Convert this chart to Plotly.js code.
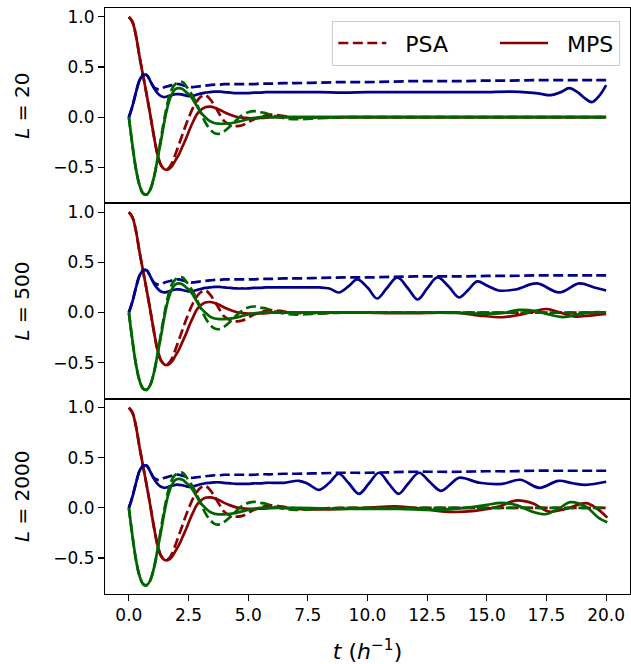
<!DOCTYPE html>
<html>
<head>
<meta charset="utf-8">
<script src="https://cdn.plot.ly/plotly-3.0.1.min.js"></script>
<style>html,body{margin:0;padding:0;background:#fff;}#chart{width:631px;height:664px;}</style>
</head>
<body>
<div id="chart"></div>
<script>
// ---------- shared early-time data (identical in all panels) ----------
const tEarly = [0, 0.15, 0.3, 0.45, 0.6, 0.75, 0.9, 1.05, 1.2, 1.35, 1.5, 1.65, 1.8, 1.95, 2.1, 2.25, 2.4, 2.55, 2.7, 2.85, 3.0, 3.2, 3.4, 3.6, 3.8, 4.0, 4.25, 4.5, 4.75, 5.0, 5.25, 5.5, 5.75, 6.0, 6.5];

const mpsRedEarly = [1.0, 0.95, 0.81, 0.60, 0.41, 0.22, 0.02, -0.19, -0.37, -0.48, -0.52, -0.52, -0.49, -0.43, -0.37, -0.29, -0.21, -0.12, -0.04, 0.03, 0.07, 0.10, 0.105, 0.095, 0.075, 0.05, 0.025, 0.005, -0.005, -0.01, -0.01, -0.008, -0.005, 0.0, 0.0];
const psaRedEarly = [1.0, 0.95, 0.81, 0.60, 0.41, 0.22, 0.02, -0.19, -0.37, -0.48, -0.51, -0.51, -0.46, -0.37, -0.27, -0.17, -0.07, 0.02, 0.10, 0.16, 0.20, 0.22, 0.18, 0.11, 0.03, -0.04, -0.075, -0.088, -0.08, -0.05, -0.02, 0.0, 0.02, 0.025, 0.01];

const mpsGreenEarly = [0.0, -0.28, -0.52, -0.68, -0.76, -0.77, -0.72, -0.60, -0.42, -0.23, -0.03, 0.13, 0.23, 0.28, 0.29, 0.28, 0.25, 0.22, 0.17, 0.11, 0.05, 0.0, -0.04, -0.06, -0.065, -0.065, -0.06, -0.05, -0.035, -0.02, -0.01, 0.0, 0.0, 0.0, 0.0];
const psaGreenEarly = [0.0, -0.28, -0.52, -0.68, -0.76, -0.77, -0.72, -0.60, -0.42, -0.20, 0.0, 0.17, 0.28, 0.33, 0.35, 0.35, 0.31, 0.26, 0.20, 0.13, 0.05, -0.05, -0.12, -0.16, -0.165, -0.14, -0.09, -0.03, 0.02, 0.05, 0.06, 0.05, 0.04, 0.02, -0.01];

const mpsBlueEarly = [0.0, 0.11, 0.25, 0.37, 0.42, 0.42, 0.36, 0.29, 0.24, 0.21, 0.20, 0.21, 0.22, 0.23, 0.23, 0.225, 0.215, 0.21, 0.215, 0.225, 0.235, 0.245, 0.25, 0.255, 0.255, 0.25, 0.245, 0.24, 0.24, 0.24, 0.245, 0.245, 0.25, 0.25, 0.25];
const psaBlueEarly = [0.0, 0.11, 0.25, 0.37, 0.42, 0.42, 0.36, 0.30, 0.28, 0.28, 0.30, 0.31, 0.32, 0.33, 0.33, 0.32, 0.31, 0.30, 0.30, 0.305, 0.31, 0.315, 0.32, 0.325, 0.325, 0.33, 0.33, 0.33, 0.33, 0.33, 0.33, 0.335, 0.335, 0.335, 0.34];

// ---------- PSA late times (same in all panels) ----------
const tPsaLate = [7, 8, 9, 10, 11, 12, 13, 14, 15, 16, 17, 18, 19, 20];
const psaRedLate = [-0.005, -0.005, 0, 0, 0, 0, 0, 0, 0, 0, 0, 0, 0, 0];
const psaGreenLate = [-0.02, -0.01, 0, 0, 0, 0, 0, 0, 0, 0, 0, 0, 0, 0];
const psaBlueLate = [0.34, 0.345, 0.35, 0.35, 0.355, 0.36, 0.36, 0.36, 0.365, 0.365, 0.37, 0.37, 0.37, 0.37];

// ---------- MPS late times, L = 20 ----------
const tBlueL20 = [7, 8, 9, 10, 11, 12, 13, 14, 15, 16, 16.8, 17.2, 17.7, 18.1, 18.45, 18.8, 19.1, 19.4, 19.7, 20];
const blueL20 = [0.25, 0.25, 0.245, 0.25, 0.25, 0.25, 0.25, 0.25, 0.25, 0.255, 0.245, 0.235, 0.22, 0.25, 0.29, 0.25, 0.19, 0.15, 0.21, 0.32];
const tRedL20 = [7, 10, 13, 16, 20];
const redL20 = [0, 0, 0, 0, 0];
const tGreenL20 = [7, 10, 13, 16, 20];
const greenL20 = [0, 0, 0, 0, 0];

// ---------- MPS late times, L = 500 ----------
const tBlueL500 = [7, 7.5, 8.0, 8.4, 8.8, 9.2, 9.57, 10.0, 10.4, 10.8, 11.25, 11.7, 12.1, 12.5, 12.93, 13.4, 13.84, 14.2, 14.6, 15.0, 15.5, 16.2, 17.1, 18.03, 18.87, 19.5, 20];
const blueL500 = [0.25, 0.25, 0.25, 0.24, 0.20, 0.26, 0.33, 0.25, 0.14, 0.24, 0.35, 0.24, 0.13, 0.24, 0.35, 0.26, 0.15, 0.22, 0.31, 0.27, 0.22, 0.23, 0.29, 0.20, 0.29, 0.25, 0.22];
const tRedL500 = [7, 8, 9, 10, 11, 12, 13, 13.7, 14.7, 15.65, 16.2, 16.8, 17.5, 18.2, 18.7, 19.3, 20];
const redL500 = [0, 0, 0, 0, -0.005, -0.005, 0, 0, -0.03, -0.047, -0.03, 0.0, 0.035, -0.01, -0.04, -0.03, -0.013];
const tGreenL500 = [7, 8, 9, 10, 11, 12, 13, 14, 14.7, 15.65, 16.35, 17.05, 17.6, 18.2, 19.0, 19.6, 20];
const greenL500 = [0, 0, 0, 0, 0, 0, 0, -0.005, -0.01, -0.005, 0.027, 0.015, -0.02, -0.045, -0.01, 0.005, 0.0];

// ---------- MPS late times, L = 2000 ----------
const tBlueL2000 = [7.13, 7.5, 7.97, 8.4, 8.8, 9.2, 9.64, 10.05, 10.48, 10.9, 11.3, 11.7, 12.16, 12.6, 13.07, 13.45, 13.84, 14.7, 15.65, 16.4, 17.2, 18.0, 18.6, 19.15, 20];
const blueL2000 = [0.27, 0.24, 0.18, 0.25, 0.34, 0.25, 0.14, 0.24, 0.35, 0.24, 0.14, 0.24, 0.35, 0.26, 0.17, 0.23, 0.30, 0.25, 0.24, 0.28, 0.20, 0.27, 0.245, 0.23, 0.26];
const tRedL2000 = [7, 8, 9, 10, 11.2, 12.3, 13.4, 14.5, 15.5, 16.2, 16.9, 17.6, 18.3, 19.15, 19.57, 20.05];
const redL2000 = [-0.01, -0.015, -0.01, 0.0, 0.015, -0.01, -0.04, -0.03, 0.013, 0.073, 0.047, -0.037, -0.01, 0.047, 0.0, -0.097];
const tGreenL2000 = [7, 8, 9, 10, 11.3, 12.9, 14.1, 15.0, 15.6, 16.2, 16.9, 17.47, 18.0, 18.5, 19.15, 19.7, 20.05];
const greenL2000 = [0, -0.005, -0.01, -0.01, -0.01, -0.02, 0.0, 0.03, 0.05, 0.03, -0.037, -0.063, -0.01, 0.057, 0.013, -0.103, -0.143];

const panelLabels = ['<i>L</i> = 20', '<i>L</i> = 500', '<i>L</i> = 2000'];
const legendNames = ['PSA', 'MPS'];
const xTicks = [0, 2.5, 5, 7.5, 10, 12.5, 15, 17.5, 20];
const yTicks = [-0.5, 0, 0.5, 1.0];

// ---------- styling ----------
const RED = '#8b0000', BLUE = '#00008b', GREEN = '#006400';
const LW = 2.7, DASH = '10px,4.5px';
const FONT = 'DejaVu Sans, Liberation Sans, sans-serif';
const PAD = '\u00a0\u00a0';
const PAD_AFTER = '\u00a0\u00a0\u00a0\u00a0\u00a0\u00a0';

const lateMPS = [
  {tb: tBlueL20, b: blueL20, tr: tRedL20, r: redL20, tg: tGreenL20, g: greenL20},
  {tb: tBlueL500, b: blueL500, tr: tRedL500, r: redL500, tg: tGreenL500, g: greenL500},
  {tb: tBlueL2000, b: blueL2000, tr: tRedL2000, r: redL2000, tg: tGreenL2000, g: greenL2000}
];

const traces = [];
function line(x, y, color, dash, ax, name, show) {
  traces.push({
    type: 'scatter', mode: 'lines', x: x, y: y,
    xaxis: 'x' + ax, yaxis: 'y' + ax,
    line: {color: color, width: LW, dash: dash, shape: 'spline', smoothing: 1},
    name: name, showlegend: show, hoverinfo: 'skip'
  });
}
lateMPS.forEach((p, i) => {
  const ax = i === 0 ? '' : String(i + 1);
  const first = i === 0;
  line(tEarly.concat(tPsaLate), psaRedEarly.concat(psaRedLate), RED, DASH, ax, PAD + legendNames[0] + PAD_AFTER, first);
  line(tEarly.concat(p.tr), mpsRedEarly.concat(p.r), RED, 'solid', ax, PAD + legendNames[1], first);
  line(tEarly.concat(tPsaLate), psaBlueEarly.concat(psaBlueLate), BLUE, DASH, ax, 'PSA', false);
  line(tEarly.concat(p.tb), mpsBlueEarly.concat(p.b), BLUE, 'solid', ax, 'MPS', false);
  line(tEarly.concat(tPsaLate), psaGreenEarly.concat(psaGreenLate), GREEN, DASH, ax, 'PSA', false);
  line(tEarly.concat(p.tg), mpsGreenEarly.concat(p.g), GREEN, 'solid', ax, 'MPS', false);
});

const YR = [-0.8585, 1.0885];
const AXLW = 1.0;
function xAxis(anchor, bottom) {
  const a = {
    anchor: anchor, domain: [0, 1], range: [-1, 21],
    showline: true, mirror: true, linecolor: '#000', linewidth: AXLW,
    showgrid: false, zeroline: false,
    tickvals: xTicks, tickformat: '.1f',
    ticks: bottom ? 'outside' : '', ticklen: 6, tickwidth: 1.1, tickcolor: '#000',
    showticklabels: bottom,
    tickfont: {family: FONT, size: 17, color: '#000'}
  };
  if (bottom) a.title = {text: '<i>t</i> (<i>h</i><sup>−1</sup>)', font: {family: FONT, size: 22, color: '#000'}, standoff: 20};
  return a;
}
function yAxis(anchor, dom, label) {
  return {
    anchor: anchor, domain: dom, range: YR,
    showline: true, mirror: true, linecolor: '#000', linewidth: AXLW,
    showgrid: false, zeroline: false,
    tickvals: yTicks, tickformat: '.1f',
    ticks: 'outside', ticklen: 6, tickwidth: 1.1, tickcolor: '#000',
    tickfont: {family: FONT, size: 17, color: '#000'},
    title: {text: label, font: {family: FONT, size: 20, color: '#000'}, standoff: 18}
  };
}

const layout = {
  width: 631, height: 664,
  margin: {l: 105, r: 1, t: 8, b: 70},
  paper_bgcolor: '#fff', plot_bgcolor: '#fff',
  font: {family: FONT, color: '#000'},
  xaxis: xAxis('y', false),
  xaxis2: xAxis('y2', false),
  xaxis3: xAxis('y3', true),
  yaxis: yAxis('x', [2/3, 1], panelLabels[0]),
  yaxis2: yAxis('x2', [1/3, 2/3], panelLabels[1]),
  yaxis3: yAxis('x3', [0, 1/3], panelLabels[2]),
  showlegend: true,
  legend: {
    orientation: 'h', x: 0.981, xanchor: 'right', y: 0.978, yanchor: 'top',
    bgcolor: 'rgba(255,255,255,0.8)', bordercolor: '#cccccc', borderwidth: 1.3,
    font: {family: FONT, size: 22, color: '#000'},
    itemwidth: 48
  }
};

Plotly.newPlot('chart', traces, layout, {staticPlot: true, displayModeBar: false});
</script>
</body>
</html>
